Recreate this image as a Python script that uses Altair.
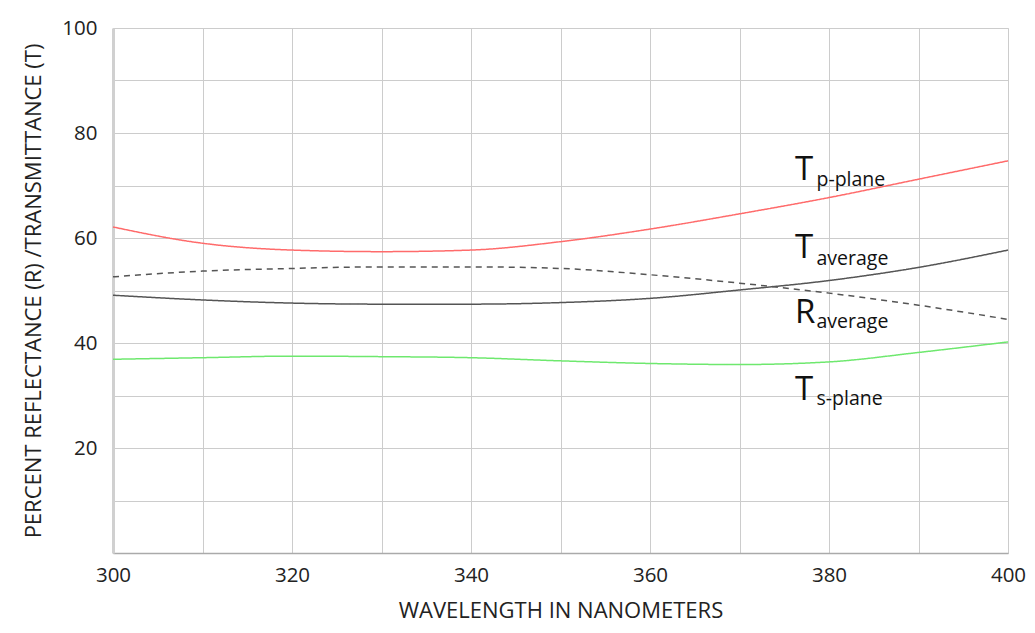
import altair as alt
import pandas as pd

wavelength = [300, 310, 320, 330, 340, 350, 360, 370, 380, 390, 400]
t_p_plane = [62.1, 59.0, 57.7, 57.4, 57.7, 59.3, 61.7, 64.6, 67.7, 71.2, 74.7]
t_average = [49.1, 48.2, 47.6, 47.4, 47.4, 47.7, 48.5, 50.1, 51.9, 54.4, 57.7]
r_average = [52.6, 53.7, 54.2, 54.5, 54.5, 54.2, 53.0, 51.4, 49.5, 47.2, 44.5]
t_s_plane = [36.9, 37.2, 37.5, 37.4, 37.2, 36.6, 36.1, 35.9, 36.4, 38.2, 40.2]

series_names = ["Tp", "Tavg", "Ravg", "Ts"]
series_colors = ["#ff6b6b", "#555555", "#555555", "#6ee86e"]

big_letters = ["T", "T", "R", "T"]
big_x = [376.2, 376.2, 376.2, 376.2]
big_y = [73.0, 58.1, 45.7, 31.0]
sub_labels = ["p-plane", "average", "average", "s-plane"]
sub_x = [378.6, 378.6, 378.6, 378.6]
sub_y = [71.0, 56.0, 44.0, 29.3]

rows = []
for name, vals in zip(series_names, [t_p_plane, t_average, r_average, t_s_plane]):
    for w, v in zip(wavelength, vals):
        rows.append({"wl": w, "val": v, "series": name, "dash": "dash" if name == "Ravg" else "solid"})
df = pd.DataFrame(rows)

big_df = pd.DataFrame({"x": big_x, "y": big_y, "t": big_letters})
sub_df = pd.DataFrame({"x": sub_x, "y": sub_y, "t": sub_labels})

FONT = "Open Sans"

x_enc = alt.X("wl:Q", scale=alt.Scale(domain=[300, 400], nice=False),
              axis=alt.Axis(values=list(range(300, 401, 10)),
                            labelExpr="datum.value % 20 == 0 ? datum.label : ''",
                            title="WAVELENGTH IN NANOMETERS", ticks=False,
                            labelFlush=False,
                            labelPadding=12, titlePadding=15, labelFontSize=20.5,
                            titleFontSize=22, titleFontWeight="normal",
                            labelFont=FONT, titleFont=FONT,
                            labelColor="#222", titleColor="#222",
                            gridColor="#cccccc", domainColor="#aaaaaa", domainWidth=1.5))
y_enc = alt.Y("val:Q", scale=alt.Scale(domain=[0, 100], nice=False),
              axis=alt.Axis(values=list(range(0, 101, 10)),
                            labelExpr="datum.value % 20 == 0 && datum.value > 0 ? datum.label : ''",
                            title="PERCENT REFLECTANCE (R) /TRANSMITTANCE (T)", ticks=False,
                            labelFlush=False,
                            labelPadding=16, titlePadding=16, labelFontSize=20.5,
                            titleFontSize=22, titleFontWeight="normal",
                            labelFont=FONT, titleFont=FONT,
                            labelColor="#222", titleColor="#222",
                            gridColor="#cccccc", domainColor="#d0d0d0", domainWidth=3))

lines = alt.Chart(df).mark_line(interpolate="monotone", strokeWidth=1.5).encode(
    x=x_enc, y=y_enc,
    color=alt.Color("series:N", scale=alt.Scale(domain=series_names, range=series_colors), legend=None),
    strokeDash=alt.StrokeDash("dash:N", scale=alt.Scale(domain=["solid", "dash"], range=[[1, 0], [6, 5]]), legend=None),
    detail="series:N",
)

big = alt.Chart(big_df).mark_text(fontSize=33, font=FONT, align="left", baseline="middle", color="#111").encode(
    x="x:Q", y="y:Q", text="t:N")
sub = alt.Chart(sub_df).mark_text(fontSize=19.5, font=FONT, align="left", baseline="middle", color="#111").encode(
    x="x:Q", y="y:Q", text="t:N")

chart = alt.layer(lines, big, sub).properties(
    width=895, height=525,
    autosize=alt.AutoSizeParams(type="none"),
    padding={"left": 105, "top": 20, "right": 18, "bottom": 70},
).configure_view(stroke=None).configure(background="white")

chart.save("out.html", embed_options={"renderer": "svg", "actions": False})
